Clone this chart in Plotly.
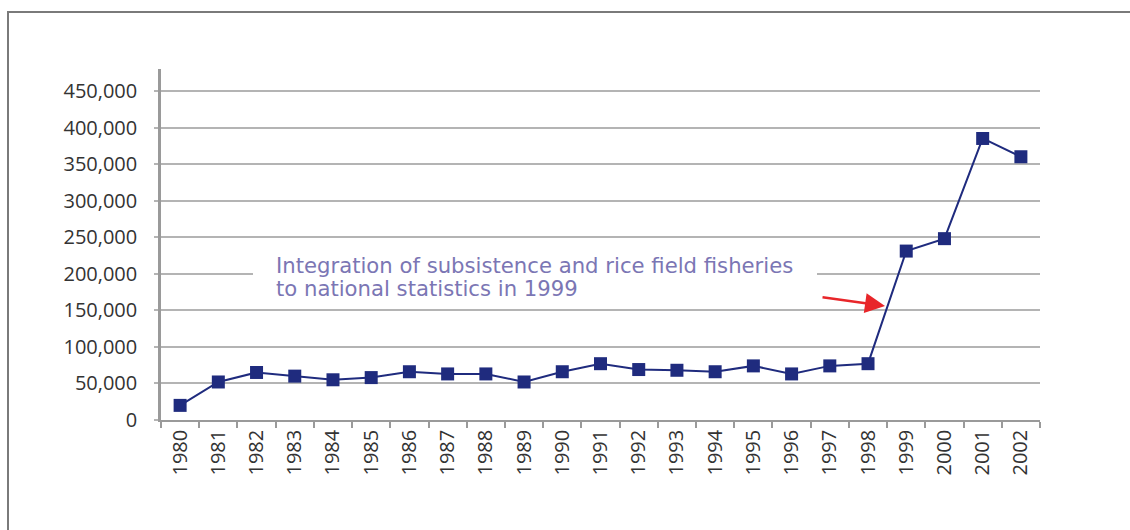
import plotly.graph_objects as go

# Annual catch, 1980-2002 (tonnes)
years = [str(y) for y in range(1980, 2003)]
catch = [20000, 52000, 65000, 60000, 55000, 58000, 66000, 63000, 63000, 52000,
         66000, 77000, 69000, 68000, 66000, 74000, 63000, 74000, 77000,
         231000, 248000, 385000, 360000]

y_ticks = list(range(0, 450001, 50000))
note_lines = ["Integration of subsistence and rice field fisheries",
              "to national statistics in 1999"]

navy = "#1f2b7e"
axis_grey = "#9a9a9a"
grid_grey = "#b4b4b4"
font_family = "Open Sans"

fig = go.Figure()
fig.add_trace(go.Scatter(
    x=years, y=catch, mode="lines+markers",
    line=dict(color=navy, width=2),
    marker=dict(symbol="square", size=13, color=navy),
    hoverinfo="x+y", showlegend=False,
))

# Plot area geometry in pixels, used to place decorative items in paper units
W, H = 1130, 530
L, R, T, B = 161, 90, 69, 110
pw, ph = W - L - R, H - T - B


def px_x(p):
    return (p - L) / pw


def px_y(p):
    return (H - B - p) / ph


annotations = []
for i, line in enumerate(note_lines):
    annotations.append(dict(
        text=line, xref="paper", yref="paper",
        x=px_x(274), y=px_y(265 + 23 * i), xanchor="left", yanchor="middle",
        align="left", showarrow=False,
        font=dict(family="DejaVu Sans", size=21.2, color="#7b76b4")))

# red pointer towards the 1999 jump (category index of 1998, nudged right)
annotations.append(dict(
    text="", x=years.index("1998"), xshift=17, y=156000, xref="x", yref="y",
    showarrow=True, arrowhead=2, arrowsize=1.6, arrowwidth=2.5,
    arrowcolor="#e8262a", ax=-64, ay=-9, standoff=0))

fig.update_layout(
    width=W, height=H,
    margin=dict(l=L, r=R, t=T, b=B),
    paper_bgcolor="white", plot_bgcolor="white",
    font=dict(family=font_family, size=20, color="#333333"),
    xaxis=dict(
        type="category", range=[-0.5, len(years) - 0.5],
        tickangle=-90, tickson="boundaries", ticks="outside", ticklen=6,
        tickcolor=axis_grey, tickwidth=1.5,
        showline=True, linecolor=axis_grey, linewidth=1.5,
        showgrid=False, zeroline=False,
        tickfont=dict(family=font_family, size=20, color="#333333"),
    ),
    yaxis=dict(
        range=[0, 480000], tickvals=y_ticks,
        ticktext=[f"{v:,}" for v in y_ticks],
        ticks="outside", ticklen=4, tickcolor=grid_grey, tickwidth=1.5,
        showline=True, linecolor=axis_grey, linewidth=2.5,
        showgrid=True, gridcolor=grid_grey, gridwidth=1.5,
        zeroline=False, ticklabelstandoff=13,
        tickfont=dict(family=font_family, size=20, color="#333333"),
    ),
    shapes=[
        # outer frame
        dict(type="rect", xref="paper", yref="paper",
             x0=px_x(8), x1=px_x(1300), y0=px_y(700), y1=px_y(12),
             line=dict(color="#7a7a7a", width=2), fillcolor="rgba(0,0,0,0)",
             layer="above"),
        # white panel behind the note, interrupting the 200,000 gridline
        dict(type="rect", xref="paper", yref="paper",
             x0=px_x(253), x1=px_x(817), y0=px_y(280), y1=px_y(266),
             line=dict(width=0), fillcolor="white", layer="above"),
    ],
    annotations=annotations,
)

fig.write_html("out.html")
